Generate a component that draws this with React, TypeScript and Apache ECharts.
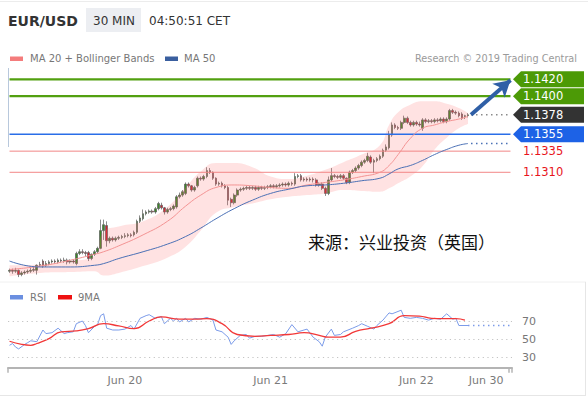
import React, { useEffect, useRef } from "react";
import * as echarts from "echarts";

const slotCount = 166;
const timeSlots: string[] = Array.from({ length: slotCount }, (_, i) => String(i));
const xLabelSlots = [38, 86, 134, 157];
const xLabelTexts = ["Jun 20", "Jun 21", "Jun 22", "Jun 30"];

// [open, close, low, high]
const candles: number[][] = [
  [1.1193, 1.1194, 1.1191, 1.1196], [1.1194, 1.1193, 1.119, 1.1196], [1.1193, 1.1194, 1.1191, 1.1197],
  [1.1194, 1.1189, 1.1186, 1.1195], [1.1189, 1.1191, 1.1187, 1.1193], [1.1191, 1.1192, 1.1189, 1.1194],
  [1.1192, 1.1193, 1.119, 1.1195], [1.1193, 1.1194, 1.1191, 1.1197], [1.1194, 1.1195, 1.1192, 1.1198],
  [1.1194, 1.12, 1.1189, 1.1201], [1.12, 1.1201, 1.1198, 1.1204], [1.1205, 1.1199, 1.1197, 1.1207],
  [1.12, 1.1202, 1.1198, 1.1205], [1.1202, 1.1204, 1.12, 1.1206], [1.1204, 1.1205, 1.1202, 1.1207],
  [1.1205, 1.1204, 1.1202, 1.1207], [1.1204, 1.1206, 1.1202, 1.1208], [1.1206, 1.1205, 1.1203, 1.1208],
  [1.1205, 1.1206, 1.1203, 1.1209], [1.1206, 1.1204, 1.1201, 1.1208], [1.1204, 1.1205, 1.1202, 1.1207],
  [1.1205, 1.1204, 1.1202, 1.1207], [1.1202, 1.1214, 1.12, 1.1216], [1.1214, 1.1216, 1.1212, 1.1219],
  [1.1216, 1.1215, 1.1213, 1.1219], [1.1215, 1.1214, 1.1211, 1.1217], [1.1215, 1.1208, 1.1205, 1.1217],
  [1.1208, 1.1213, 1.1206, 1.1214], [1.1213, 1.1216, 1.1211, 1.1218], [1.1216, 1.122, 1.1214, 1.1222],
  [1.122, 1.1241, 1.1219, 1.1254], [1.1241, 1.1248, 1.123, 1.1254], [1.1247, 1.1229, 1.1222, 1.1252],
  [1.1229, 1.1232, 1.1226, 1.1234], [1.1232, 1.123, 1.1228, 1.1234], [1.123, 1.1232, 1.1228, 1.1234],
  [1.1232, 1.1233, 1.123, 1.1235], [1.1233, 1.1234, 1.1231, 1.1236], [1.1234, 1.1235, 1.1232, 1.1238],
  [1.1235, 1.1236, 1.1233, 1.1238], [1.1236, 1.1235, 1.1233, 1.1238], [1.1236, 1.1239, 1.1234, 1.1241],
  [1.1239, 1.1252, 1.1237, 1.1254], [1.1252, 1.1256, 1.125, 1.1259], [1.1255, 1.1261, 1.1253, 1.1266],
  [1.1261, 1.1263, 1.1259, 1.1265], [1.1263, 1.1264, 1.1261, 1.1266], [1.1264, 1.1263, 1.1261, 1.1266],
  [1.1263, 1.1267, 1.1261, 1.1269], [1.1267, 1.1273, 1.1265, 1.1275], [1.1271, 1.1268, 1.1266, 1.1274],
  [1.1268, 1.1263, 1.126, 1.1269], [1.1263, 1.1266, 1.1261, 1.1268], [1.1266, 1.1267, 1.1264, 1.1269],
  [1.1267, 1.127, 1.1265, 1.1272], [1.1269, 1.1281, 1.1267, 1.1283], [1.1281, 1.1283, 1.1279, 1.1286],
  [1.1283, 1.1287, 1.1281, 1.1289], [1.1285, 1.1296, 1.1283, 1.1298], [1.1296, 1.1294, 1.1292, 1.1298],
  [1.1294, 1.1289, 1.1287, 1.1295], [1.1289, 1.1292, 1.1287, 1.1294], [1.1294, 1.1303, 1.1292, 1.1305],
  [1.1303, 1.1302, 1.13, 1.1305], [1.1302, 1.1305, 1.13, 1.1307], [1.1305, 1.1312, 1.1303, 1.1316],
  [1.1312, 1.131, 1.1308, 1.1315], [1.131, 1.1303, 1.1301, 1.1311], [1.1303, 1.1296, 1.1294, 1.1304],
  [1.1296, 1.1297, 1.1294, 1.1299], [1.1297, 1.1294, 1.1292, 1.1299], [1.1294, 1.1292, 1.129, 1.1296],
  [1.1292, 1.1277, 1.1271, 1.1294], [1.1278, 1.1274, 1.1269, 1.128], [1.1274, 1.1283, 1.1272, 1.1285],
  [1.1283, 1.1289, 1.1281, 1.1291], [1.1289, 1.129, 1.1287, 1.1292], [1.129, 1.1291, 1.1288, 1.1293],
  [1.1291, 1.1292, 1.1289, 1.1294], [1.1292, 1.1291, 1.1289, 1.1294], [1.1291, 1.1292, 1.1289, 1.1294],
  [1.1292, 1.129, 1.1288, 1.1294], [1.129, 1.1292, 1.1288, 1.1294], [1.1292, 1.1291, 1.1289, 1.1294],
  [1.1291, 1.1292, 1.1289, 1.1294], [1.1292, 1.1293, 1.129, 1.1295], [1.1293, 1.1294, 1.1291, 1.1296],
  [1.1294, 1.1293, 1.1291, 1.1296], [1.1293, 1.1294, 1.1291, 1.1296], [1.1294, 1.1295, 1.1292, 1.1297],
  [1.1295, 1.1296, 1.1293, 1.1298], [1.1296, 1.1295, 1.1293, 1.1298], [1.1295, 1.1297, 1.1293, 1.1299],
  [1.1297, 1.1296, 1.1294, 1.1299], [1.1296, 1.1305, 1.1294, 1.1309], [1.1305, 1.1306, 1.1303, 1.1308],
  [1.1306, 1.1301, 1.1299, 1.1308], [1.1301, 1.1302, 1.1299, 1.1304], [1.1302, 1.1301, 1.1299, 1.1304],
  [1.1301, 1.1302, 1.1299, 1.1304], [1.1302, 1.1301, 1.1298, 1.1304], [1.1301, 1.1295, 1.1293, 1.1303],
  [1.1295, 1.1296, 1.1293, 1.1298], [1.1296, 1.1291, 1.1289, 1.1298], [1.1291, 1.1285, 1.1282, 1.1293],
  [1.1285, 1.1301, 1.1283, 1.1305], [1.1301, 1.1306, 1.1299, 1.1315], [1.1306, 1.1305, 1.1303, 1.1308],
  [1.1305, 1.1304, 1.1302, 1.1307], [1.1304, 1.1306, 1.1302, 1.1308], [1.1306, 1.1303, 1.1301, 1.1308],
  [1.1303, 1.1298, 1.1296, 1.1304], [1.1298, 1.131, 1.1296, 1.1312], [1.131, 1.1312, 1.1308, 1.1314],
  [1.1312, 1.1315, 1.131, 1.1317], [1.1315, 1.1318, 1.1313, 1.132], [1.1318, 1.1322, 1.1316, 1.1324],
  [1.1322, 1.1324, 1.132, 1.1326], [1.1324, 1.1329, 1.1322, 1.1333], [1.1328, 1.1322, 1.132, 1.133],
  [1.1322, 1.1324, 1.1309, 1.1326], [1.1324, 1.1326, 1.1322, 1.1328], [1.1326, 1.1329, 1.1324, 1.1331],
  [1.1329, 1.1336, 1.1327, 1.1338], [1.1336, 1.134, 1.1334, 1.1343], [1.1339, 1.1354, 1.1337, 1.1359],
  [1.1354, 1.1366, 1.1352, 1.1369], [1.1366, 1.1363, 1.1361, 1.1368], [1.1363, 1.1362, 1.136, 1.1365],
  [1.1362, 1.1369, 1.136, 1.1371], [1.1369, 1.1374, 1.1367, 1.1377], [1.1374, 1.1369, 1.1367, 1.1376],
  [1.1369, 1.1366, 1.1364, 1.1371], [1.1366, 1.1369, 1.1364, 1.1371], [1.1369, 1.1367, 1.1365, 1.1371],
  [1.1367, 1.1366, 1.1364, 1.137], [1.1362, 1.1372, 1.1359, 1.1374], [1.1372, 1.137, 1.1368, 1.1374],
  [1.137, 1.1371, 1.1368, 1.1373], [1.1371, 1.137, 1.1368, 1.1373], [1.137, 1.1372, 1.1368, 1.1374],
  [1.1372, 1.1371, 1.1369, 1.1374], [1.1371, 1.1373, 1.1369, 1.1375], [1.1373, 1.137, 1.1368, 1.1375],
  [1.137, 1.1373, 1.1368, 1.1375], [1.1373, 1.1383, 1.1371, 1.1385], [1.1383, 1.1381, 1.1379, 1.1385],
  [1.1381, 1.138, 1.1378, 1.1383], [1.138, 1.1377, 1.1375, 1.1382], [1.1379, 1.1374, 1.1372, 1.1381],
  [1.1376, 1.1377, 1.1373, 1.1378], [1.1377, 1.1378, 1.1375, 1.138],
];

const bandSlots = [0, 10, 20, 28, 31, 36, 44, 52, 58, 63, 68, 74, 80, 86, 92, 98, 104, 110, 116, 122, 125, 128, 132, 136, 140, 144, 148, 151];
const bbUpper = [1.12, 1.1201, 1.1205, 1.1211, 1.124, 1.1246, 1.1252, 1.1269, 1.1292, 1.1311, 1.1321, 1.1321, 1.1316, 1.1305, 1.1302, 1.1306, 1.1313, 1.1322, 1.1331, 1.1342, 1.1366, 1.1381, 1.139, 1.1394, 1.1394, 1.1391, 1.1386, 1.138];
const bbLower = [1.1187, 1.1191, 1.1192, 1.1193, 1.1188, 1.1191, 1.1199, 1.1209, 1.1222, 1.1241, 1.1262, 1.1269, 1.1273, 1.1278, 1.1281, 1.1283, 1.1285, 1.1289, 1.1288, 1.1287, 1.1291, 1.1297, 1.1305, 1.1317, 1.1337, 1.1351, 1.1362, 1.1367];
const ma20 = [1.1195, 1.1199, 1.1206, 1.1213, 1.1216, 1.1223, 1.1236, 1.1252, 1.127, 1.1283, 1.1292, 1.1295, 1.1294, 1.1292, 1.1291, 1.1295, 1.1298, 1.1301, 1.1305, 1.131, 1.1318, 1.1331, 1.135, 1.1362, 1.1366, 1.137, 1.1373, 1.1376];
const ma50 = [1.1205, 1.1198, 1.1198, 1.12, 1.1202, 1.1208, 1.1216, 1.1225, 1.1234, 1.1244, 1.1255, 1.1267, 1.1277, 1.1285, 1.129, 1.1294, 1.1295, 1.1297, 1.13, 1.1303, 1.1308, 1.1314, 1.1318, 1.1324, 1.1331, 1.1337, 1.1342, 1.1344];

const levelValues = [1.142, 1.14, 1.1378, 1.1355, 1.1335, 1.131];
const levelLabels = ["1.1420", "1.1400", "1.1378", "1.1355", "1.1335", "1.1310"];
const lastClose = 1.1378;
const ma50Last = 1.1344;
const targetPrice = 1.1419;

const rsi: number[][] = [
  [0, 43], [1, 45], [2, 41], [3, 39], [5, 44], [6, 46], [7, 48], [9, 47], [11, 60], [12, 56], [14, 57], [16, 62],
  [18, 56], [19, 57], [21, 58], [22, 67], [24, 70], [25, 65], [26, 57], [28, 64], [29, 66], [30, 76], [31, 78],
  [32, 62], [34, 60], [36, 60], [38, 61], [40, 65], [41, 61], [43, 73], [45, 76], [46, 77], [48, 73], [50, 75],
  [51, 67], [53, 73], [54, 70], [55, 73], [56, 69], [58, 73], [59, 69], [61, 73], [63, 72], [65, 74], [67, 71],
  [68, 60], [70, 58], [72, 52], [73, 44], [74, 48], [76, 54], [78, 55], [79, 51], [81, 53], [83, 53], [85, 54],
  [87, 55], [89, 52], [91, 56], [93, 66], [95, 58], [97, 60], [98, 61], [100, 52], [102, 47], [103, 42], [104, 52],
  [106, 61], [107, 54], [109, 55], [110, 58], [113, 62], [115, 65], [116, 67], [118, 64], [120, 61], [121, 65],
  [123, 71], [125, 79], [126, 78], [129, 82], [130, 74], [132, 73], [134, 74], [136, 73], [138, 71], [140, 73],
  [142, 72], [144, 78], [146, 72], [147, 73], [148, 65], [151, 65],
];
const rsiMa9: number[][] = [
  [0, 47.5], [4, 44], [7, 43], [9, 45], [13, 50.5], [17, 58], [22, 59], [26, 61.5], [31, 67], [36, 64.5], [41, 61.5],
  [46, 70], [50, 74.5], [56, 72], [61, 72], [65, 72.7], [70, 67], [75, 55], [81, 53], [86, 54], [92, 55], [97, 57],
  [102, 54], [105, 52], [109, 52], [114, 58.5], [119, 62], [125, 67], [130, 76], [135, 75.5], [139, 73], [143, 72.7],
  [147, 72.7], [150, 71],
];
const rsiLast = 65;
const rsiLevels = [70, 50, 30];

const FONT = "DejaVu Sans";

export default function App() {
  const ref = useRef<HTMLDivElement>(null);
  useEffect(() => {
    if (!ref.current) return;
    const chart = echarts.init(ref.current, undefined, { renderer: "svg" });
    const levelStyle = [
      { box: "#4c9a06", text: "#ffffff", line: { color: "#52a010", width: 2.2 } },
      { box: "#4c9a06", text: "#ffffff", line: { color: "#52a010", width: 2.2 } },
      { box: "#333333", text: "#ffffff", line: null },
      { box: "#1d62e6", text: "#ffffff", line: { color: "#2a6ee8", width: 1.5 } },
      { box: null, text: "#e8141b", line: { color: "#f28686", width: 1 } },
      { box: null, text: "#e8141b", line: { color: "#f28686", width: 1 } },
    ];
    const levelSeries: any[] = [];
    levelValues.forEach((v, i) => {
      const l = levelStyle[i].line;
      if (!l) return;
      levelSeries.push({
        type: "line", xAxisIndex: 0, yAxisIndex: 0, symbol: "none", silent: true, z: 3,
        data: [[0, v], [slotCount - 1, v]],
        lineStyle: { color: l.color, width: l.width, type: "solid" },
      });
    });
    const lastSlot = candles.length - 1;
    const option: any = {
      animation: false,
      textStyle: { fontFamily: FONT },
      grid: [
        { left: 8, top: 70.85, width: 504, height: 207.1 },
        { left: 8, top: 304.8, width: 504, height: 63 },
      ],
      xAxis: [
        { type: "category", gridIndex: 0, data: timeSlots, boundaryGap: true, show: false },
        {
          type: "category", gridIndex: 1, data: timeSlots, boundaryGap: true,
          axisLine: { lineStyle: { color: "#b4b4b4", width: 2 } },
          axisTick: { show: true, interval: (i: number) => i === 0 || i === slotCount - 1, length: 5, lineStyle: { color: "#b4b4b4", width: 1.5 } },
          axisLabel: {
            interval: (i: number) => xLabelSlots.includes(i),
            formatter: (_v: string, i: number) => xLabelTexts[xLabelSlots.indexOf(i)] || "",
            color: "#7a7a7a", fontSize: 11, margin: 7, fontFamily: FONT,
          },
          splitLine: { show: false },
        },
      ],
      yAxis: [
        { type: "value", gridIndex: 0, min: 1.1185, max: 1.143, show: false },
        { type: "value", gridIndex: 1, min: 18, max: 88, show: false },
      ],
      series: [
        {
          type: "line", xAxisIndex: 0, yAxisIndex: 0, stack: "bb", smooth: true, symbol: "none", silent: true,
          data: bandSlots.map((s, k) => [s, bbLower[k]]), lineStyle: { opacity: 0 },
        },
        {
          type: "line", xAxisIndex: 0, yAxisIndex: 0, stack: "bb", smooth: true, symbol: "none", silent: true,
          data: bandSlots.map((s, k) => [s, bbUpper[k] - bbLower[k]]), lineStyle: { opacity: 0 },
          areaStyle: { color: "rgba(255,110,110,0.2)", opacity: 1 },
        },
        ...levelSeries,
        {
          type: "line", xAxisIndex: 0, yAxisIndex: 0, smooth: true, symbol: "none", silent: true,
          data: bandSlots.map((s, k) => [s, ma20[k]]), lineStyle: { color: "#f39393", width: 1 },
        },
        {
          type: "line", xAxisIndex: 0, yAxisIndex: 0, smooth: true, symbol: "none", silent: true,
          data: bandSlots.map((s, k) => [s, ma50[k]]), lineStyle: { color: "#4a70b5", width: 1 },
        },
        {
          type: "candlestick", xAxisIndex: 0, yAxisIndex: 0, barWidth: 2.2, silent: true,
          data: candles,
          itemStyle: { color: "#3b8a25", color0: "#d11f2b", borderColor: "#5a5a5a", borderColor0: "#5a5a5a", borderWidth: 0.7 },
        },
        {
          type: "line", xAxisIndex: 0, yAxisIndex: 0, symbol: "none", silent: true,
          data: [[lastSlot + 1, lastClose], [slotCount - 1, lastClose]],
          lineStyle: { color: "#8a8a8a", width: 1.5, type: [1.5, 3.5] },
          markLine: {
            silent: true, label: { show: false },
            data: [[
              { coord: [lastSlot + 1, lastClose], symbol: "none" },
              { coord: [slotCount - 1, targetPrice], symbol: "arrow", symbolSize: [14, 16] },
            ]],
            lineStyle: { color: "#2f5fa6", width: 4, type: "solid" },
          },
        },
        {
          type: "line", xAxisIndex: 0, yAxisIndex: 0, symbol: "none", silent: true,
          data: [[lastSlot + 1, ma50Last], [slotCount - 1, ma50Last]],
          lineStyle: { color: "#4a70b5", width: 1.5, type: [1.5, 3.5] },
        },
        {
          type: "custom", xAxisIndex: 0, yAxisIndex: 0, silent: true, clip: false,
          data: levelValues.map((v) => [0, v]),
          renderItem: (params: any, api: any) => {
            const i = params.dataIndex;
            const y = api.coord([0, api.value(1)])[1];
            const x0 = params.coordSys.x + params.coordSys.width + 1;
            const st = levelStyle[i];
            const children: any[] = [];
            if (st.box) {
              children.push({
                type: "polygon",
                shape: { points: [[x0, y], [x0 + 8, y - 8], [x0 + 71, y - 8], [x0 + 71, y + 8], [x0 + 8, y + 8]] },
                style: { fill: st.box },
              });
            }
            children.push({
              type: "text", x: x0 + 10, y,
              style: { text: levelLabels[i], fill: st.text, fontSize: 11.5, fontFamily: FONT, verticalAlign: "middle", align: "left" },
            });
            return { type: "group", children };
          },
        },
        {
          type: "line", xAxisIndex: 1, yAxisIndex: 1, symbol: "none", silent: true,
          data: rsi, lineStyle: { color: "#7b9be9", width: 1 },
          markLine: {
            silent: true, symbol: ["none", "none"],
            lineStyle: { color: "#c4c4c4", width: 1.2, type: [1.2, 3.5] },
            label: { show: true, position: "end", distance: 10, color: "#777", fontSize: 11, fontFamily: FONT, formatter: (p: any) => String(p.value) },
            data: rsiLevels.map((v) => ({ yAxis: v })),
          },
        },
        {
          type: "line", xAxisIndex: 1, yAxisIndex: 1, symbol: "none", silent: true, smooth: true,
          data: rsiMa9, lineStyle: { color: "#f23838", width: 1.3 },
        },
        {
          type: "line", xAxisIndex: 1, yAxisIndex: 1, symbol: "none", silent: true,
          data: [[lastSlot, rsiLast], [slotCount - 1, rsiLast]],
          lineStyle: { color: "#7b9be9", width: 1.5, type: [1.5, 3.5] },
        },
      ],
      graphic: [
        { type: "line", shape: { x1: 0, y1: 1.5, x2: 588, y2: 1.5 }, style: { stroke: "#ececec", lineWidth: 1 } },
        { type: "line", shape: { x1: 0, y1: 282, x2: 586, y2: 282 }, style: { stroke: "#f0f0f0", lineWidth: 1 } },
        { type: "line", shape: { x1: 0, y1: 395.5, x2: 586, y2: 395.5 }, style: { stroke: "#e6e6e6", lineWidth: 1 } },
        { type: "line", shape: { x1: 585.5, y1: 282, x2: 585.5, y2: 396 }, style: { stroke: "#e6e6e6", lineWidth: 1 } },
        { type: "text", x: 8, y: 20.5, style: { text: "EUR/USD", fontSize: 14, fontWeight: "bold", fontFamily: FONT, fill: "#333", verticalAlign: "middle" } },
        { type: "rect", shape: { x: 86, y: 8, width: 55, height: 24 }, style: { fill: "#eceef2" } },
        { type: "text", x: 93, y: 20.5, style: { text: "30 MIN", fontSize: 12, fontFamily: FONT, fill: "#333", verticalAlign: "middle" } },
        { type: "text", x: 149, y: 20.5, style: { text: "04:50:51 CET", fontSize: 12, fontFamily: FONT, fill: "#333", verticalAlign: "middle" } },
        { type: "rect", shape: { x: 10, y: 56.5, width: 13, height: 4.5 }, style: { fill: "#f47c7c" } },
        { type: "text", x: 30, y: 58.5, style: { text: "MA 20 + Bollinger Bands", fontSize: 10, fontFamily: FONT, fill: "#777", verticalAlign: "middle" } },
        { type: "rect", shape: { x: 165, y: 56.5, width: 13, height: 4.5 }, style: { fill: "#3a5f9f" } },
        { type: "text", x: 184, y: 58.5, style: { text: "MA 50", fontSize: 10, fontFamily: FONT, fill: "#777", verticalAlign: "middle" } },
        { type: "text", x: 577, y: 58.5, style: { text: "Research © 2019 Trading Central", fontSize: 9.7, fontFamily: FONT, fill: "#9a9a9a", verticalAlign: "middle", align: "right" } },
        { type: "line", shape: { x1: 8.5, y1: 68, x2: 8.5, y2: 147 }, style: { stroke: "#b8c8dc", lineWidth: 1 } },
        { type: "text", x: 308, y: 241, style: { text: "来源：兴业投资（英国）", fontSize: 17, fontFamily: "Noto Sans CJK SC", fill: "#111", verticalAlign: "middle" } },
        { type: "rect", shape: { x: 10, y: 295, width: 13, height: 4.5 }, style: { fill: "#6b8fe0" } },
        { type: "text", x: 30, y: 297.5, style: { text: "RSI", fontSize: 10, fontFamily: FONT, fill: "#777", verticalAlign: "middle" } },
        { type: "rect", shape: { x: 58, y: 295, width: 14, height: 4.5 }, style: { fill: "#ee1111" } },
        { type: "text", x: 78, y: 297.5, style: { text: "9MA", fontSize: 10, fontFamily: FONT, fill: "#777", verticalAlign: "middle" } },
      ],
    };
    chart.setOption(option);
    return () => chart.dispose();
  }, []);
  return <div ref={ref} style={{ position: "fixed", left: 0, top: 0, width: 588, height: 398, background: "#fff" }} />;
}
